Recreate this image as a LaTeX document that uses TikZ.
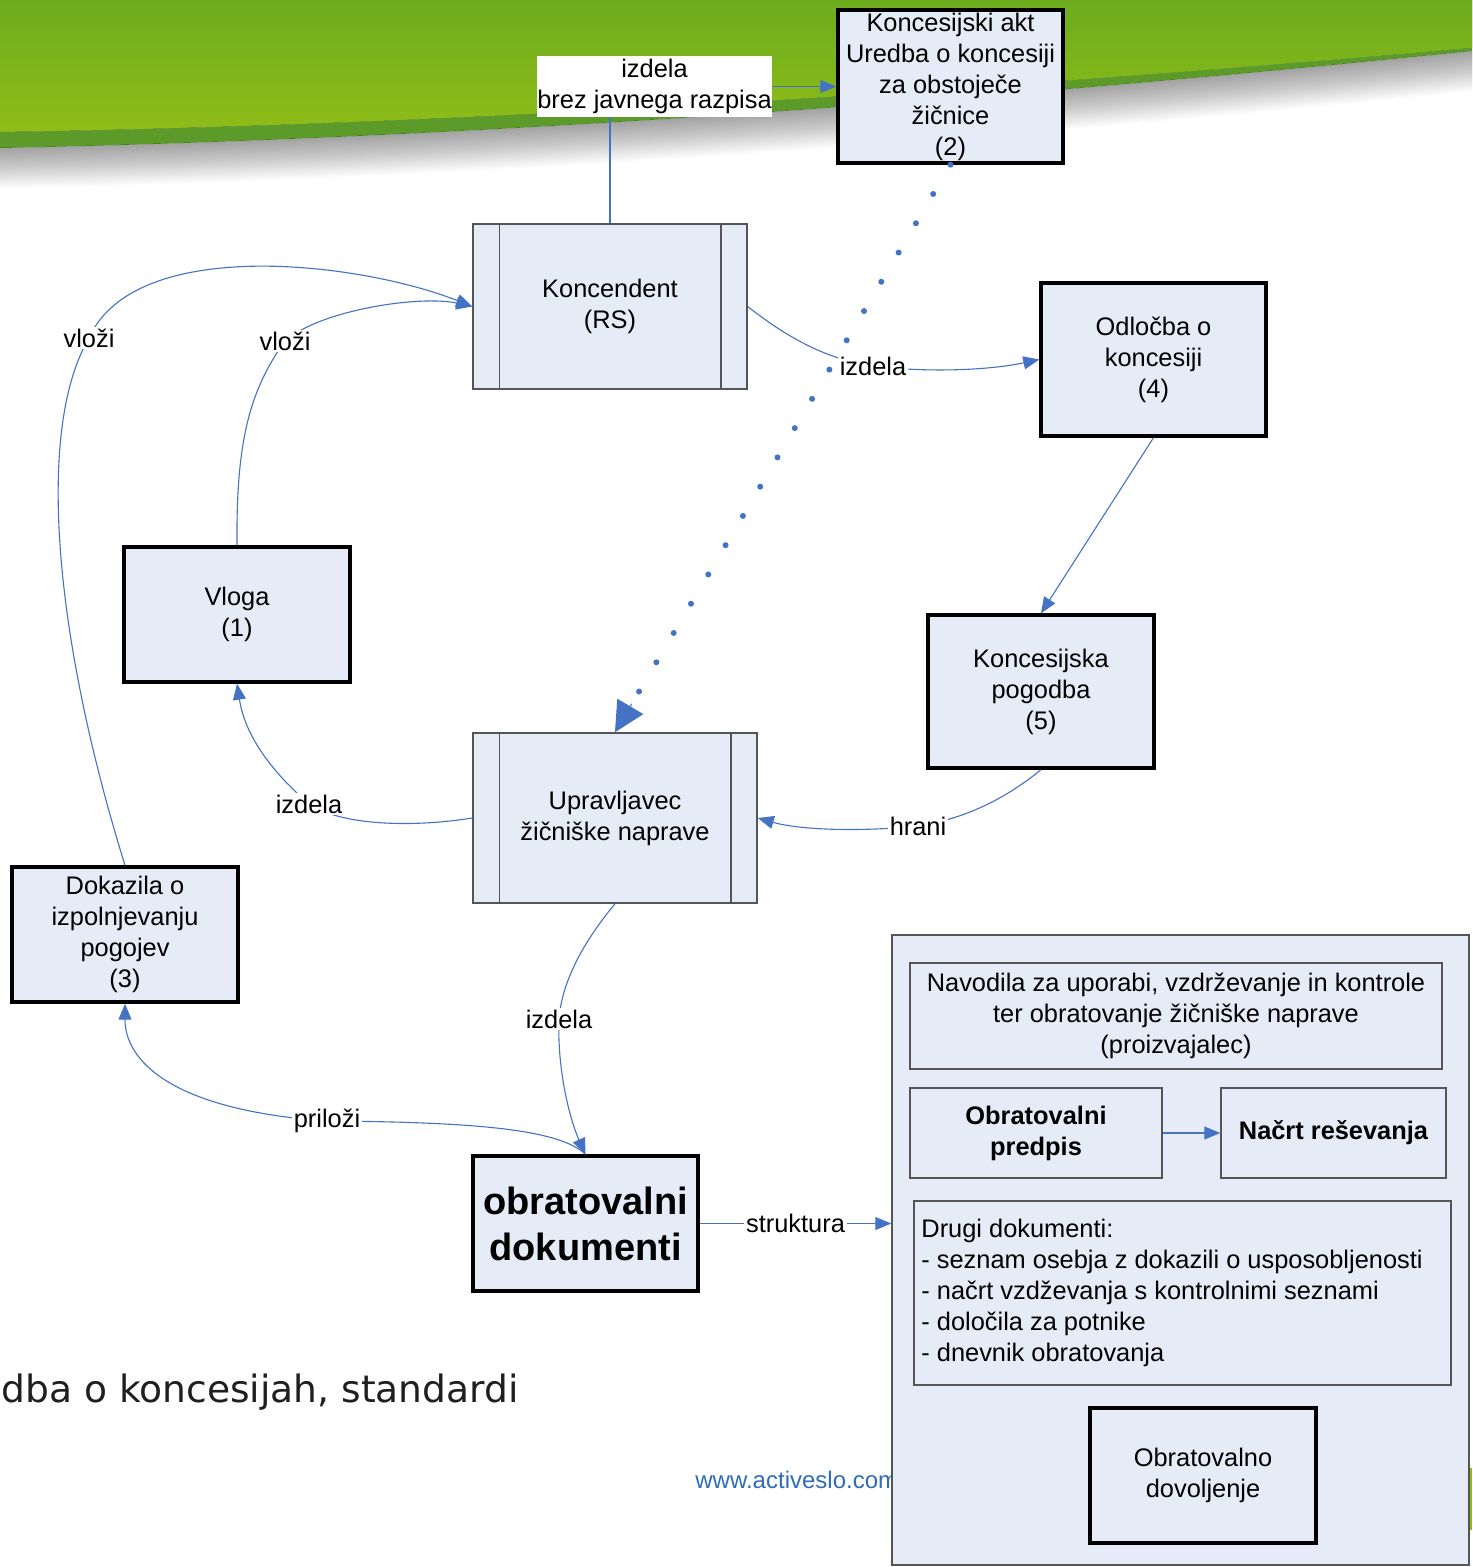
\documentclass[tikz,border=0pt]{standalone}
\usepackage{fontspec}
\setmainfont{Liberation Sans}
\newfontfamily\dvfont{DejaVu Sans}
\usetikzlibrary{arrows.meta,calc}
\definecolor{boxfill}{HTML}{E6ECF7}
\definecolor{lnblue}{HTML}{4472C4}
\definecolor{greenA}{HTML}{6CAC1E}
\definecolor{greenB}{HTML}{8FBD18}
\definecolor{greenD}{HTML}{5C9B2A}
\definecolor{thingray}{HTML}{555555}
\definecolor{wwwblue}{HTML}{2F6DB8}
\begin{document}
\begin{tikzpicture}[x=0.5pt,y=-0.5pt,
  every node/.style={font=\fontsize{12.7}{15.5}\selectfont, align=center},
  thickbox/.style={draw=black, line width=1.7pt, fill=boxfill, inner sep=1pt},
  thinbox/.style={draw=thingray, line width=0.75pt, fill=boxfill, inner sep=1pt},
  lbl/.style={fill=white, inner sep=1pt},
  conn/.style={draw=lnblue, line width=0.55pt, -{Triangle[length=8pt,width=6.5pt]}},
  dotline/.style={draw=lnblue, line width=3pt, line cap=round, dash pattern=on 0pt off 17pt},
  sideline/.style={draw=thingray, line width=0.75pt},
]
\useasboundingbox (0,0) rectangle (1472,1567);
\fill[white] (0,0) rectangle (1472,1567);
% green background band
\fill[top color=greenA, bottom color=greenB] (0,0) -- (1472,0) -- (1472,48) .. controls (900,98) and (400,126) .. (0,132) -- cycle;
\fill[greenD] (0,132) .. controls (400,126) and (900,98) .. (1472,48) -- (1472,51) .. controls (900,110) and (400,140) .. (0,148) -- cycle;
\foreach \k in {2,4,...,40} {
  \fill[black,opacity=0.018] (0,148) .. controls (400,140) and (900,110) .. (1472,51) -- (1472,{51+\k}) .. controls (900,{110+\k}) and (400,{140+\k}) .. (0,{148+\k}) -- cycle;
}
\fill[greenB] (1469,1468) rectangle (1472,1530);
% background texts
\node[anchor=east, inner sep=0, font=\dvfont\fontsize{18.8}{22}\selectfont, text=black!88] (uredba) at (519,1392) {dba o koncesijah, standardi};
\node[anchor=west, inner sep=0, text=wwwblue, font=\fontsize{12}{14}\selectfont] (www) at (695,1480) {www.activeslo.com};

% nodes
\node[thickbox, minimum width=112.5pt, minimum height=76.5pt] (akt) at (950.5,86.5) {Koncesijski akt\\Uredba o koncesiji\\za obstoječe\\žičnice\\(2)};
\node[thinbox, minimum width=137pt, minimum height=82.5pt] (kon) at (610,306.5) {Koncendent\\(RS)};
\draw[sideline] ([xshift=13.5pt]kon.north west) -- ([xshift=13.5pt]kon.south west);
\draw[sideline] ([xshift=-13.5pt]kon.north east) -- ([xshift=-13.5pt]kon.south east);
\node[thickbox, minimum width=112.5pt, minimum height=76.5pt] (odl) at (1153.5,359.5) {Odločba o\\koncesiji\\(4)};
\node[thickbox, minimum width=113pt, minimum height=67.5pt] (vlo) at (237,614.5) {Vloga\\(1)};
\node[thickbox, minimum width=113pt, minimum height=76.5pt] (pog) at (1041,691.5) {Koncesijska\\pogodba\\(5)};
\node[thinbox, minimum width=142pt, minimum height=85pt] (upr) at (615,818) {Upravljavec\\žičniške naprave};
\draw[sideline] ([xshift=13.5pt]upr.north west) -- ([xshift=13.5pt]upr.south west);
\draw[sideline] ([xshift=-13.5pt]upr.north east) -- ([xshift=-13.5pt]upr.south east);
\node[thickbox, minimum width=113pt, minimum height=67.5pt] (dok) at (125,934.5) {Dokazila o\\izpolnjevanju\\pogojev\\(3)};
\node[thickbox, minimum width=112.5pt, minimum height=67.5pt, font=\fontsize{19}{23}\selectfont\bfseries] (obr) at (585.5,1223.5) {obratovalni\\dokumenti};

\node[thinbox, minimum width=288.5pt, minimum height=315pt] (panel) at (1180.5,1250) {};
\node[thinbox, minimum width=266pt, minimum height=53pt] (nav) at (1176,1016) {Navodila za uporabi, vzdrževanje in kontrole\\ter obratovanje žičniške naprave\\(proizvajalec)};
\node[thinbox, minimum width=126pt, minimum height=45pt, font=\fontsize{12.7}{15.5}\selectfont\bfseries] (pred) at (1036,1133) {Obratovalni\\predpis};
\node[thinbox, minimum width=112.5pt, minimum height=45pt, font=\fontsize{12.7}{15.5}\selectfont\bfseries] (nacrt) at (1333.5,1133) {Načrt reševanja};
\node[thinbox, minimum width=268.5pt, minimum height=92pt] (drugi) at (1182.5,1293) {};
\node[anchor=west, align=left, inner sep=0] (drugitxt) at (921,1293) {Drugi dokumenti:\\- seznam osebja z dokazili o usposobljenosti\\- načrt vzdževanja s kontrolnimi seznami\\- določila za potnike\\- dnevnik obratovanja};
\node[thickbox, minimum width=113pt, minimum height=67.5pt] (dov) at (1203,1475.5) {Obratovalno\\dovoljenje};

% connectors
\draw[conn] (kon.north) |- (akt.west);
\node[lbl, minimum width=117.5pt, minimum height=30.5pt, inner sep=0] (l0) at (654.5,86.5) {izdela\\brez javnega razpisa};

\draw[conn] (dok.north) .. controls (55,640) and (35,430) .. (89,338) node[lbl] (l1) {vloži} .. controls (135,235) and (360,262) .. (kon.west);
\draw[conn] (vlo.north) .. controls (236,440) and (250,390) .. (285,341) node[lbl] (l2) {vloži} .. controls (320,310) and (420,295) .. (kon.west);
\draw[conn] (kon.east) .. controls (790,340) and (830,360) .. (873,366) node[lbl] (l3) {izdela} .. controls (930,373) and (990,370) .. (odl.west);
\draw[conn] (odl.south) -- (pog.north);
\draw[conn] (pog.south) .. controls (1010,795) and (970,818) .. (918,826) node[lbl] (l4) {hrani} .. controls (860,832) and (800,830) .. (upr.east);
\draw[conn] (upr.west) .. controls (410,828) and (340,825) .. (309,804) node[lbl] (l5) {izdela} .. controls (270,770) and (245,735) .. (vlo.south);
\draw[conn] (upr.south) .. controls (585,940) and (562,980) .. (559,1019) node[lbl] (l6) {izdela} .. controls (557,1070) and (570,1120) .. (obr.north);
\draw[conn] (obr.north) .. controls (560,1130) and (480,1122) .. (327,1121) node[lbl] (l7) {priloži} .. controls (170,1110) and (125,1060) .. (dok.south);
\draw[conn] (obr.east) -- node[lbl] (l8) {struktura} (obr.east -| panel.west);
\draw[conn] (pred.east) -- (nacrt.west);

% dotted connector
\draw[dotline] (akt.south) -- (upr.north);
\draw[draw=lnblue, fill=lnblue, line width=0.5pt, -{Triangle[length=15pt,width=15pt]}] ($(upr.north)!0.05!(akt.south)$) -- (upr.north);
\end{tikzpicture}
\end{document}
